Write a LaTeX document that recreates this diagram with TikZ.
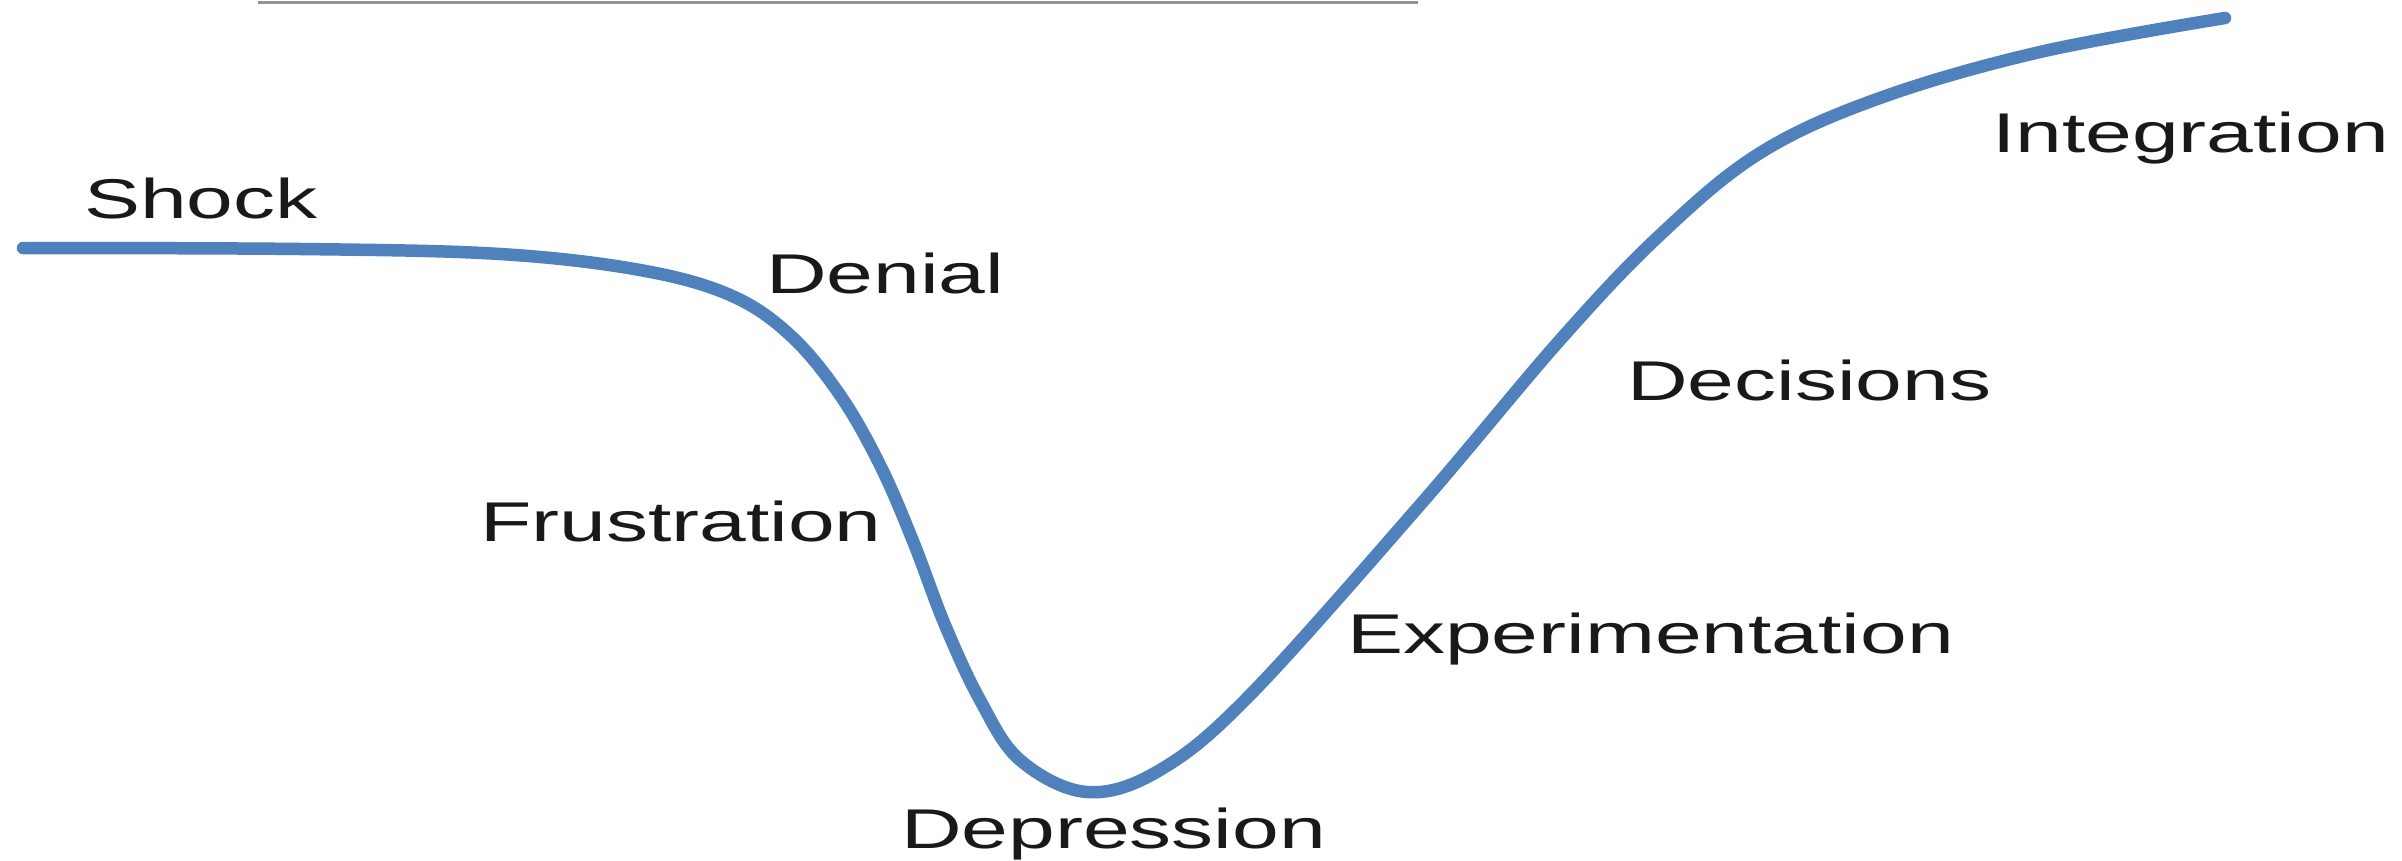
\documentclass[tikz,border=0pt]{standalone}
\usepackage{fontspec}
\newfontfamily\labfont[FakeStretch=1.50]{Liberation Sans}
\definecolor{curveblue}{RGB}{79,129,189}
\definecolor{textgray}{RGB}{25,25,25}
\begin{document}
\begin{tikzpicture}[x=1pt,y=-1pt,
  lbl/.style={font=\labfont\fontsize{56}{62}\selectfont, text=textgray, anchor=base west, inner sep=0pt, outer sep=0pt},
  curve/.style={draw=curveblue, line width=12.5pt, line cap=round, line join=round}]
\useasboundingbox (0,0) rectangle (2402,860);
\fill[white] (0,0) rectangle (2402,860);
% top edge of a cropped frame
\coordinate (fl) at (258,2);
\coordinate (fr) at (1418,2);
\draw[gray!85, line width=3pt] (fl) -- (fr);
% the curve
\draw[curve] plot[smooth, tension=0.6] coordinates {
 (23,248) (300,249) (500,254) (640,270) (730,295) (790,335) (840,395)
 (880,465) (913,541) (945,625) (980,700) (1020,760) (1087,792)
 (1160,770) (1250,695) (1420,505) (1560,340) (1660,235) (1760,153)
 (1880,98) (2040,52) (2225,18)};
% labels
\node[lbl] (shock) at (84,218) {Shock};
\node[lbl] (denial) at (766,293) {Denial};
\node[lbl] (frus) at (480,541) {Frustration};
\node[lbl] (dep) at (901,848) {Depression};
\node[lbl] (exp) at (1347,653) {Experimentation};
\node[lbl] (dec) at (1627,400) {Decisions};
\node[lbl] (integ) at (1992,152) {Integration};
\end{tikzpicture}
\end{document}
